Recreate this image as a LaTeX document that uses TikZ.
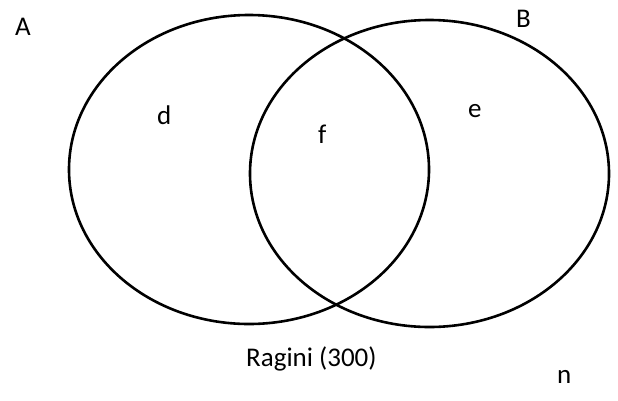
\documentclass[tikz,border=0pt]{standalone}
\usepackage{fontspec}
\setmainfont{Carlito}
\usetikzlibrary{shapes.geometric}
\begin{document}
\begin{tikzpicture}[x=1pt,y=-1pt,
  setshape/.style={draw=black, line width=2.6pt, ellipse, inner sep=0pt},
  lbl/.style={inner sep=0pt, anchor=base west, font=\fontsize{27}{32}\selectfont}]
\useasboundingbox (0,0) rectangle (618,400);
% the two sets
\node[setshape, minimum width=360pt, minimum height=309pt] (setA) at (249,169.5) {};
\node[setshape, minimum width=359pt, minimum height=307pt] (setB) at (429.5,173.5) {};
% set names and region labels
\node[lbl] (labA) at (15,35) {A};
\node[lbl] (labB) at (516,27) {B};
\node[lbl] (labd) at (157,124) {d};
\node[lbl] (labf) at (318,143) {f};
\node[lbl] (labe) at (468,117) {e};
\node[lbl] (title) at (246,366) {Ragini (300)};
\node[lbl] (labn) at (557,383) {n};
\end{tikzpicture}
\end{document}
